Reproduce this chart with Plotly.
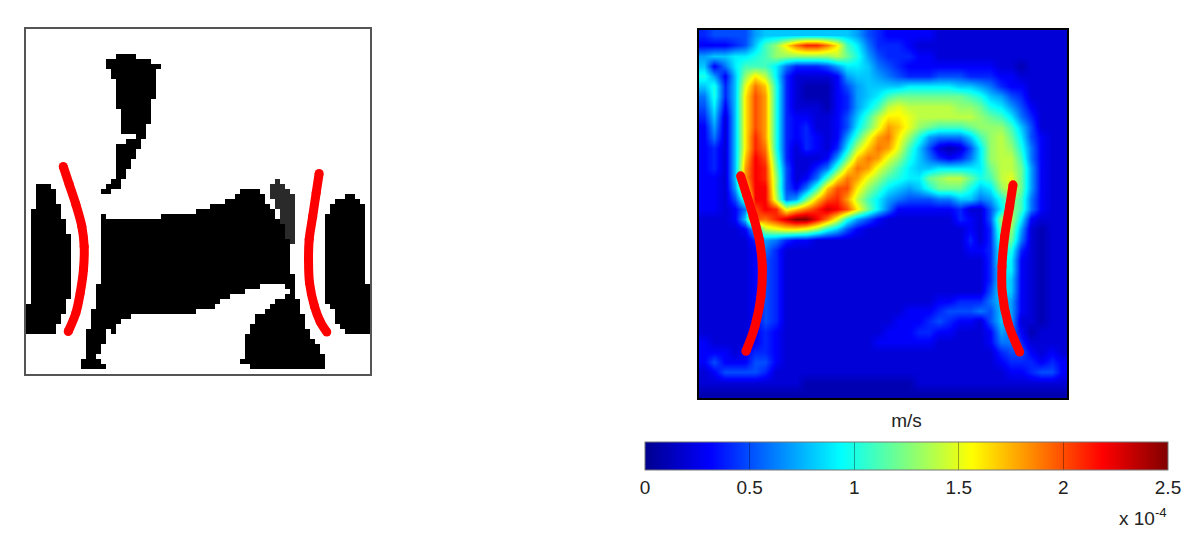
import numpy as np
import plotly.graph_objects as go

W, H = 1192, 546

# Left panel: solid cells as (row, first col, last col), 69 x 69 grid
BLACK_RUNS = [
(5,18,21),(6,16,24),(7,16,26),(8,17,25),(9,17,25),(10,18,25),(11,18,25),(12,18,25),(13,18,25),(14,18,24),(15,18,24),
(16,19,24),(17,19,24),(18,19,24),(19,19,23),(20,19,23),(21,22,23),(22,20,22),(23,18,22),(24,18,21),(25,18,21),
(26,18,20),(27,18,20),(28,18,19),(29,18,19),(30,17,18),(31,16,18),(32,15,16),
(31,2,4),(32,2,5),(33,2,5),(34,2,5),(35,2,6),(36,1,6),(37,1,6),(38,1,7),(39,1,7),(40,1,7),(41,1,8),(42,1,8),(43,1,8),
(44,1,8),(45,1,8),(46,1,8),(47,1,8),(48,1,8),(49,1,8),(50,1,8),(51,1,8),(52,1,8),(53,1,8),(54,1,7),(55,0,7),(56,0,7),
(57,0,6),(58,0,6),(59,0,5),(60,0,5),
(32,43,46),(33,42,47),(34,40,47),(35,37,48),(36,34,49),(37,27,49),(37,15,15),(38,15,50),(39,15,51),(40,15,51),(41,15,52),
(42,15,52),(43,15,52),(44,15,52),(45,15,52),(46,15,52),(47,15,52),(48,15,52),(49,15,53),(50,15,53),(51,14,46),(51,52,53),
(52,14,43),(53,14,40),(54,14,38),(55,14,37),(56,13,33),(57,13,20),(58,13,18),(59,13,17),(60,12,15),(60,17,17),(61,12,15),
(62,12,15),(63,12,14),(64,12,14),(65,12,13),(66,11,14),(67,11,15),
(52,53,53),(53,52,53),(54,50,54),(55,49,54),(56,48,54),(57,46,55),(58,46,55),(59,45,55),(60,45,56),(61,44,56),(62,44,57),
(63,44,58),(64,44,58),(65,44,59),(66,43,59),(67,45,59),
(33,64,65),(34,62,66),(35,61,67),(36,61,67),(37,60,67),(38,60,67),(39,60,67),(40,60,67),(41,60,67),(42,60,67),(43,60,67),
(44,60,67),(45,60,67),(46,60,67),(47,60,67),(48,60,67),(49,60,67),(50,60,67),(51,60,68),(52,60,68),(53,60,68),(54,60,68),
(55,61,68),(56,62,68),(57,62,68),(58,62,68),(59,63,68),(60,64,68),
]
GREY_RUNS = [
(30,50,50),(31,49,51),(32,49,52),(33,49,53),(34,50,53),(35,50,53),(36,51,53),(37,51,53),(38,51,53),(39,52,53),(40,52,53),
(41,52,53),(42,53,53),
]
LEFT_A_X = [7.47,8.67,10,11.2,11.67,11.53,10.87,10,8.47]
LEFT_A_Y = [27.5,31.1,35.1,39.5,43.5,48.1,52.8,56.8,60.5]
LEFT_B_X = [58.8,58.2,57.5,56.8,56.67,56.87,57.87,59,60.33]
LEFT_B_Y = [28.9,32.8,37.5,42.1,46.1,50.8,55.5,58.5,60.6]

# Right panel: speed in units of 1e-5 m/s, 36 x 36 grid
SPEED = [
[4,5,5,5,5,7,8,8,8,8,8,8,8,8,8,7,5,4,3,3,3,3,3,2,2,2,2,2,2,2,2,2,2,2,2,2],
[3,3,3,4,5,8,11,13,16,19,21,21,19,16,11,9,6,4,4,4,3,2,2,2,2,2,2,2,2,2,2,2,2,2,2,2],
[7,8,8,9,9,10,11,13,13,13,13,13,13,14,12,10,7,5,4,4,4,3,3,2,2,2,2,2,2,2,2,2,2,2,2,2],
[8,3,6,9,11,11,11,9,6,4,4,4,5,7,9,9,8,6,5,4,3,3,3,3,3,3,3,3,3,2,2,1,2,2,2,2],
[10,7,3,8,13,16,14,9,4,2,2,2,2,3,7,8,8,7,6,5,4,4,4,5,5,5,4,4,4,3,3,2,2,2,2,2],
[8,10,4,8,15,19,17,10,4,2,1,1,1,3,5,7,8,8,8,8,9,9,9,9,9,8,8,7,6,4,3,3,2,2,2,2],
[6,10,4,8,16,20,18,10,4,2,1,1,1,3,4,7,8,9,11,12,12,12,12,12,12,12,11,10,8,7,5,4,2,2,2,2],
[5,9,3,8,16,20,18,10,4,2,2,2,1,3,4,7,9,11,14,15,14,14,14,14,14,13,13,12,10,9,7,5,3,2,2,2],
[4,8,2,8,16,20,18,10,4,3,3,2,2,3,5,8,11,14,16,16,15,14,14,14,14,14,14,13,12,11,9,6,4,2,2,2],
[3,7,2,8,16,20,18,10,4,3,4,2,2,3,5,9,12,15,18,17,15,13,12,11,11,11,12,13,13,13,11,8,5,2,2,2],
[3,6,2,8,16,21,18,10,4,3,4,3,2,3,7,11,15,18,19,16,13,10,7,6,6,6,8,11,13,14,12,9,5,3,2,2],
[3,4,2,8,16,21,19,10,4,2,4,3,2,4,9,14,17,19,18,15,11,8,5,2,1,2,5,9,13,14,13,10,6,3,2,2],
[3,4,2,8,17,22,20,11,4,2,2,2,3,7,12,17,19,18,15,13,10,8,6,4,3,4,6,9,13,14,14,11,6,3,2,2],
[3,4,2,8,18,22,21,12,5,2,2,4,6,11,16,19,18,15,13,11,9,8,8,9,9,9,9,9,12,14,14,12,7,3,2,2],
[3,3,2,8,18,22,21,13,5,2,3,6,11,16,19,18,15,13,11,10,9,9,12,13,14,14,12,10,11,14,15,12,7,3,2,2],
[3,3,2,7,16,22,22,13,5,3,6,11,17,20,20,16,13,11,9,8,7,8,10,12,12,12,10,8,9,13,15,12,7,3,2,2],
[3,3,2,5,11,22,22,14,6,7,12,17,20,21,18,14,11,9,7,6,5,5,5,6,6,8,8,6,7,10,13,11,6,3,2,2],
[3,3,2,3,6,20,22,21,15,17,19,21,23,22,20,16,12,9,6,3,3,3,3,3,3,4,2,2,5,9,13,11,6,3,2,2],
[2,2,2,3,8,20,19,21,23,25,25,22,19,15,10,7,5,3,2,2,2,2,2,2,2,4,3,2,5,13,14,9,3,2,2,2],
[2,2,2,2,3,8,14,15,16,16,15,13,10,8,5,3,2,2,2,2,2,2,2,2,2,2,3,2,4,12,13,7,2,1,2,2],
[2,2,2,2,2,4,7,6,4,3,3,2,2,2,2,2,2,2,2,2,2,2,2,2,2,2,4,2,4,11,12,6,2,1,2,2],
[2,2,2,2,2,3,6,4,2,2,2,2,2,2,2,2,2,2,2,2,2,2,2,2,2,2,3,3,4,10,10,4,2,1,2,2],
[2,2,2,2,2,3,5,4,2,2,2,2,2,2,2,2,2,2,2,2,2,2,2,2,2,2,2,2,4,10,9,3,2,1,2,2],
[2,2,2,2,2,3,5,4,2,2,2,2,2,2,2,2,2,2,2,2,2,2,2,2,2,2,2,2,4,9,9,3,2,1,2,2],
[2,2,2,2,2,3,5,4,2,2,2,2,2,2,2,2,2,2,2,2,2,2,2,2,2,2,2,2,4,9,8,3,2,1,2,2],
[2,2,2,2,2,3,5,4,2,2,2,2,2,2,2,2,2,2,2,2,2,2,2,2,2,2,2,2,5,9,8,3,2,1,2,2],
[2,2,2,2,2,3,5,4,2,2,2,2,2,2,2,2,2,2,2,2,2,2,2,3,3,4,4,4,6,8,7,3,2,1,2,2],
[2,2,2,2,2,3,5,4,2,2,2,2,2,2,2,2,2,2,2,2,3,3,3,4,5,5,5,6,5,8,7,3,2,1,2,2],
[2,2,2,2,2,3,5,4,2,2,2,2,2,2,2,2,2,2,2,3,3,3,4,5,4,3,3,2,5,8,7,2,2,1,2,2],
[2,2,2,2,2,3,4,3,2,2,2,2,2,2,2,2,2,2,3,3,3,4,4,3,3,2,2,2,3,7,6,3,1,2,2,2],
[3,2,2,2,2,3,4,3,2,2,2,2,2,2,2,2,2,3,3,3,3,3,3,2,2,2,2,2,3,6,6,4,2,2,2,2],
[3,3,3,2,3,4,4,3,2,2,2,2,2,2,2,2,2,2,2,2,2,2,2,2,2,2,2,2,2,4,5,5,3,2,3,2],
[3,5,3,3,3,5,5,3,2,2,2,2,2,2,2,2,2,2,2,2,2,2,2,2,2,2,2,2,2,3,4,4,4,3,4,3],
[2,3,5,5,5,5,4,2,2,2,2,2,2,2,2,2,2,2,2,2,2,2,2,2,2,2,2,2,2,2,3,3,4,5,5,3],
[2,2,2,2,2,2,2,2,2,2,1,1,1,1,1,1,1,1,1,1,1,2,2,2,2,2,2,2,2,2,2,2,2,2,2,2],
[1,1,1,1,1,1,1,1,1,1,1,1,1,1,1,1,1,1,1,1,1,1,1,1,1,1,1,1,1,1,1,1,1,1,1,1],
]
RIGHT_A_X = [4.07,4.66,5.31,5.9,6.19,6.06,5.47,4.59]
RIGHT_A_Y = [14.27,16.12,18.24,20.52,23.13,26.06,28.99,31.43]
RIGHT_B_X = [30.72,30.39,29.9,29.64,29.67,30.23,31.37]
RIGHT_B_Y = [15.15,17.26,20.2,23.13,25.73,28.66,31.5]

COLORBAR_TICKS = [0, 5, 10, 15, 20, 25]
COLORBAR_LABELS = ["0", "0.5", "1", "1.5", "2", "2.5"]
JET = [[0, "rgb(0,0,143)"], [0.125, "rgb(0,0,255)"], [0.375, "rgb(0,255,255)"],
       [0.625, "rgb(255,255,0)"], [0.875, "rgb(255,0,0)"], [1, "rgb(128,0,0)"]]

N = 69
mask = np.zeros((N, N), dtype=int)
for r, a, b in BLACK_RUNS:
    mask[r, a:b + 1] = 1
for r, a, b in GREY_RUNS:
    mask[r, a:b + 1] = 2
FONT = "Liberation Sans"

def px(x):
    return x / W

def py(y):
    return 1 - y / H

fig = go.Figure()
fig.add_trace(go.Heatmap(z=mask.tolist(), x=np.arange(N) + 0.5, y=np.arange(N) + 0.5, zmin=0, zmax=2, showscale=False,
                         colorscale=[[0, "#ffffff"], [0.5, "#000000"], [1, "#2a2a2a"]],
                         hoverinfo="skip", xaxis="x", yaxis="y"))
fig.add_trace(go.Heatmap(z=SPEED, x=np.arange(36) + 0.5, y=np.arange(36) + 0.5, zmin=0, zmax=25, zsmooth="best",
                         colorscale=JET, xaxis="x2", yaxis="y2",
                         colorbar=dict(orientation="h", lenmode="pixels", len=523, thicknessmode="pixels", thickness=28,
                                       x=px(906.5), xanchor="center", y=py(421), yanchor="top", xpad=0, ypad=0,
                                       tickmode="array", tickvals=COLORBAR_TICKS, ticktext=COLORBAR_LABELS,
                                       ticks="inside", ticklen=28, tickwidth=1, tickcolor="rgba(0,0,0,0.35)",
                                       outlinecolor="#777777", outlinewidth=1,
                                       tickfont=dict(family=FONT, size=19, color="#222222"),
                                       title=dict(text="m/s", side="top", font=dict(family=FONT, size=19, color="#222222")))))
line = dict(color="#ff0000", width=9, shape="spline")
marker = dict(color="#ff0000", size=9)
for xs, ys, xa, ya in [(LEFT_A_X, LEFT_A_Y, "x", "y"), (LEFT_B_X, LEFT_B_Y, "x", "y"),
                       (RIGHT_A_X, RIGHT_A_Y, "x2", "y2"), (RIGHT_B_X, RIGHT_B_Y, "x2", "y2")]:
    fig.add_trace(go.Scatter(x=xs, y=ys, mode="lines+markers", line=line, marker=marker, xaxis=xa, yaxis=ya,
                             showlegend=False, hoverinfo="skip"))

hidden = dict(showticklabels=False, ticks="", showgrid=False, zeroline=False, showline=True, mirror=True)
fig.update_layout(
    width=W, height=H, autosize=False, margin=dict(l=0, r=0, t=0, b=0), paper_bgcolor="white", plot_bgcolor="white",
    showlegend=False,
    xaxis=dict(domain=[px(26), px(370)], range=[0, N], anchor="y", linecolor="#555555", linewidth=2, **hidden),
    yaxis=dict(domain=[py(374), py(29)], range=[N, 0], anchor="x", linecolor="#555555", linewidth=2, **hidden),
    xaxis2=dict(domain=[px(699), px(1067)], range=[0, 36], anchor="y2", linecolor="#000000", linewidth=2, **hidden),
    yaxis2=dict(domain=[py(398), py(30)], range=[36, 0], anchor="x2", linecolor="#000000", linewidth=2, **hidden),
    annotations=[dict(text="x 10<sup>-4</sup>", xref="paper", yref="paper", x=px(1169), y=py(531), xanchor="right", yanchor="bottom",
                      showarrow=False, font=dict(family=FONT, size=19, color="#222222"))],
)
fig.write_html("out.html", post_script="document.body.style.margin='0';", config={"displayModeBar": False})
